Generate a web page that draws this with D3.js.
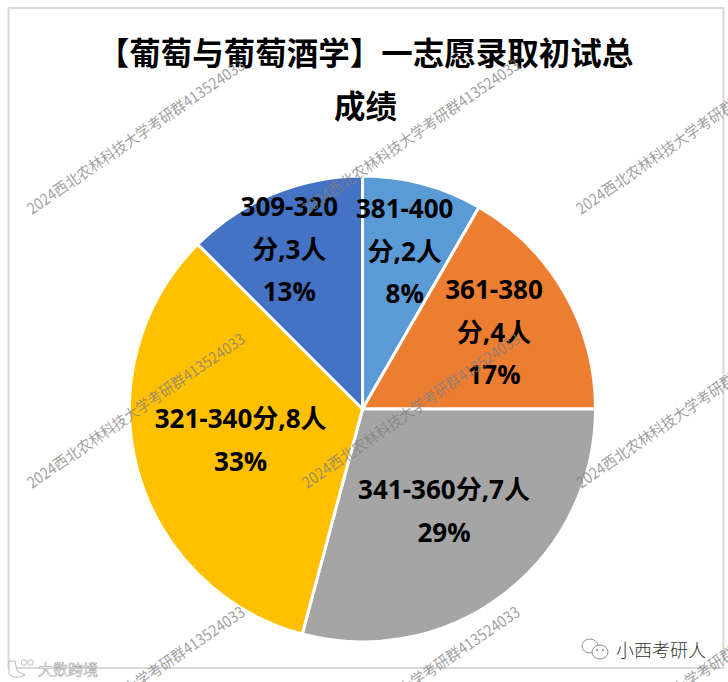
<!DOCTYPE html>
<html>
<head>
<meta charset="utf-8">
<script src="https://cdn.jsdelivr.net/npm/d3@7"></script>
<style>
  html, body { margin: 0; padding: 0; background: #fff; }
  svg { display: block; }
</style>
</head>
<body>
<div id="chart"></div>
<script>
// chart data, clockwise from 12 o'clock
var categories = ["381-400分", "361-380分", "341-360分", "321-340分", "309-320分"];
var counts = [2, 4, 7, 8, 3];
var percents = ["8%", "17%", "29%", "33%", "13%"];
var labelLines = [
  ["381-400", "分,2人", "8%"],
  ["361-380", "分,4人", "17%"],
  ["341-360分,7人", "29%"],
  ["321-340分,8人", "33%"],
  ["309-320", "分,3人", "13%"]
];
var titleLines = ["【葡萄与葡萄酒学】一志愿录取初试总", "成绩"];
var watermarkText = "2024西北农林科技大学考研群413524033";

var colours = ["#5B9BD5", "#ED7D31", "#A5A5A5", "#FFC000", "#4472C4"];
// excel places each label at its own distance from the centre
var labelRadii = [163, 153, 129, 121, 173];
var labelNudge = [0, -1, 3, -5, -7];

var width = 728,
    height = 682,
    cx = 362.5,
    cy = 409,
    radius = 233,
    lineGap = 42.5,
    cjk = "'Open Sans', 'Noto Sans CJK SC', sans-serif";

var svg = d3.select("#chart").append("svg")
    .attr("width", width)
    .attr("height", height);

// outer frame of the pasted chart
svg.append("rect")
    .attr("x", 8.5)
    .attr("y", 8)
    .attr("width", 715)
    .attr("height", 660)
    .attr("fill", "#fff")
    .attr("stroke", "#d9d9d9")
    .attr("stroke-width", 2);

svg.selectAll(".title")
    .data(titleLines)
    .enter().append("text")
    .attr("class", "title")
    .attr("x", 365.5)
    .attr("y", function(d, i) { return 54 + i * 53; })
    .attr("dy", "0.36em")
    .attr("text-anchor", "middle")
    .attr("font-family", "'Noto Sans CJK SC', sans-serif")
    .attr("font-weight", 700)
    .attr("font-size", 31.5)
    .attr("fill", "#000")
    .text(function(d) { return d; });

var pie = d3.pie().sort(null)(counts);

var arc = d3.arc()
    .innerRadius(0)
    .outerRadius(radius);

var g = svg.append("g")
    .attr("transform", "translate(" + cx + "," + cy + ")");

g.selectAll("path")
    .data(pie)
    .enter().append("path")
    .attr("d", arc)
    .attr("fill", function(d, i) { return colours[i]; })
    .attr("stroke", "#fff")
    .attr("stroke-width", 3);

var labels = g.selectAll(".label")
    .data(pie)
    .enter().append("g")
    .attr("class", "label")
    .attr("transform", function(d, i) {
      var c = d3.arc().innerRadius(labelRadii[i]).outerRadius(labelRadii[i]).centroid(d);
      return "translate(" + (c[0] + labelNudge[i]) + "," + c[1] + ")";
    });

labels.selectAll("text")
    .data(function(d, i) { return labelLines[i]; })
    .enter().append("text")
    .attr("y", function(d, i, nodes) { return (i - (nodes.length - 1) / 2) * lineGap; })
    .attr("dy", "0.36em")
    .attr("text-anchor", "middle")
    .attr("font-family", cjk)
    .attr("font-weight", 700)
    .attr("font-size", 26)
    .attr("fill", "#000")
    .text(function(d) { return d; });

// diagonal watermark grid, drawn over the chart
var wmX = [32, 307, 581];
var wmY = [215, 489, 762];
wmY.forEach(function(y) {
  wmX.forEach(function(x) {
    svg.append("text")
      .attr("transform", "translate(" + x + "," + y + ") rotate(-34.5)")
      .attr("font-family", "'Noto Sans CJK SC', sans-serif")
      .attr("font-size", 15.5)
      .attr("textLength", 260)
      .attr("lengthAdjust", "spacingAndGlyphs")
      .attr("fill", "#7f7f7f")
      .attr("fill-opacity", 0.75)
      .text(watermarkText);
  });
});

// bottom left logo, white shapes with a thin grey edge
var logo = svg.append("g").attr("fill", "#fff").attr("stroke", "#a0a0a0").attr("stroke-width", 0.7);
logo.append("path").attr("d", "M9,661 L9,674 Q16,680 25,675 L17,671 L15,661 Z");
logo.append("circle").attr("cx", 24).attr("cy", 662.5).attr("r", 2.8);
logo.append("circle").attr("cx", 30.5).attr("cy", 662.5).attr("r", 2.8);
logo.append("text")
    .attr("x", 38)
    .attr("y", 675)
    .attr("font-family", "'Noto Sans CJK SC', sans-serif")
    .attr("font-size", 15)
    .attr("stroke-width", 0.5)
    .text("大数跨境");

// bottom right account mark
var mark = svg.append("g").attr("fill", "#fff").attr("stroke", "#777").attr("stroke-width", 0.8);
mark.append("ellipse").attr("cx", 590).attr("cy", 646).attr("rx", 8).attr("ry", 7);
mark.append("ellipse").attr("cx", 600).attr("cy", 652).attr("rx", 8).attr("ry", 7);
mark.append("circle").attr("cx", 597).attr("cy", 650).attr("r", 0.8);
mark.append("circle").attr("cx", 603).attr("cy", 650).attr("r", 0.8);
svg.append("text")
    .attr("x", 616)
    .attr("y", 657)
    .attr("font-family", "'Noto Sans CJK SC', sans-serif")
    .attr("font-size", 18)
    .attr("font-weight", 300)
    .attr("fill", "#333")
    .text("小西考研人");
</script>
</body>
</html>
